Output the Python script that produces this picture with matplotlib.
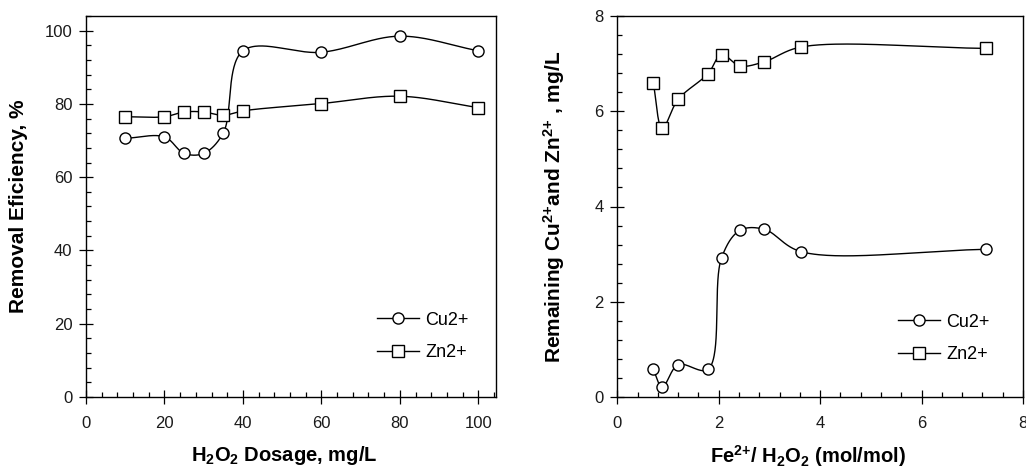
import numpy as np
import matplotlib
matplotlib.use("Agg")
import matplotlib.pyplot as plt
from matplotlib.ticker import MultipleLocator
from matplotlib.lines import Line2D

# ---- data ----
dosage = [10, 20, 25, 30, 35, 40, 60, 80, 100]
cu_removal = [70.6, 71.0, 66.5, 66.5, 72.1, 94.5, 94.1, 98.5, 94.5]
zn_removal = [76.5, 76.5, 77.8, 77.8, 76.9, 78.1, 80.1, 82.1, 79.0]

ratio = [0.709, 0.886, 1.20, 1.79, 2.055, 2.42, 2.90, 3.63, 7.27]
cu_remaining = [0.58, 0.21, 0.68, 0.58, 2.92, 3.50, 3.52, 3.05, 3.10]
zn_remaining = [6.60, 5.64, 6.25, 6.79, 7.19, 6.95, 7.04, 7.35, 7.32]

series_labels = ["Cu2+", "Zn2+"]
markers = ["o", "s"]

FIG_W, FIG_H = 1026, 468


def smooth_curve(x, y, xlim, ylim, wpx, hpx, n=60, alpha=0.5):
    """Centripetal Catmull-Rom curve through the data points, built in
    screen space so the smoothing looks like the original plotting program."""
    x = np.asarray(x, float)
    y = np.asarray(y, float)
    P = np.column_stack([(x - xlim[0]) / (xlim[1] - xlim[0]) * wpx,
                         (y - ylim[0]) / (ylim[1] - ylim[0]) * hpx])
    P = np.vstack([2 * P[0] - P[1], P, 2 * P[-1] - P[-2]])
    out = []
    for i in range(1, len(P) - 2):
        p0, p1, p2, p3 = P[i - 1], P[i], P[i + 1], P[i + 2]
        t0 = 0.0
        t1 = t0 + np.linalg.norm(p1 - p0) ** alpha
        t2 = t1 + np.linalg.norm(p2 - p1) ** alpha
        t3 = t2 + np.linalg.norm(p3 - p2) ** alpha
        t = np.linspace(t1, t2, n)[:, None]
        a1 = (t1 - t) / (t1 - t0) * p0 + (t - t0) / (t1 - t0) * p1
        a2 = (t2 - t) / (t2 - t1) * p1 + (t - t1) / (t2 - t1) * p2
        a3 = (t3 - t) / (t3 - t2) * p2 + (t - t2) / (t3 - t2) * p3
        b1 = (t2 - t) / (t2 - t0) * a1 + (t - t0) / (t2 - t0) * a2
        b2 = (t3 - t) / (t3 - t1) * a2 + (t - t1) / (t3 - t1) * a3
        c = (t2 - t) / (t2 - t1) * b1 + (t - t1) / (t2 - t1) * b2
        out.append(c)
    C = np.vstack(out)
    cx = C[:, 0] / wpx * (xlim[1] - xlim[0]) + xlim[0]
    cy = C[:, 1] / hpx * (ylim[1] - ylim[0]) + ylim[0]
    return cx, cy


plt.rcParams['font.family'] = ['Liberation Sans', 'DejaVu Sans']
plt.rcParams['mathtext.fontset'] = 'custom'
plt.rcParams['mathtext.rm'] = 'Liberation Sans'
plt.rcParams['mathtext.bf'] = 'Liberation Sans:bold'
plt.rcParams['mathtext.it'] = 'Liberation Sans:italic'

fig = plt.figure(figsize=(FIG_W / 100, FIG_H / 100), dpi=100)
ax1_rect = [86, 71, 410, 381]
ax2_rect = [617.3, 71, 405.7, 381]
ax1 = fig.add_axes([ax1_rect[0] / FIG_W, ax1_rect[1] / FIG_H,
                    ax1_rect[2] / FIG_W, ax1_rect[3] / FIG_H])
ax2 = fig.add_axes([ax2_rect[0] / FIG_W, ax2_rect[1] / FIG_H,
                    ax2_rect[2] / FIG_W, ax2_rect[3] / FIG_H])


def draw(ax, rect, x, ys, xlim, ylim, leg_anchor):
    ax.set_xlim(*xlim)
    ax.set_ylim(*ylim)
    for yv, mk in zip(ys, markers):
        sx, sy = smooth_curve(x, yv, xlim, ylim, rect[2], rect[3])
        ax.plot(sx, sy, color="black", lw=1.0, zorder=2)
        ax.plot(x, yv, linestyle="none", marker=mk, markersize=8,
                markerfacecolor="white", markeredgecolor="black",
                markeredgewidth=1.0, zorder=3)
    handles = [Line2D([], [], color="black", lw=1.0, marker=mk, markersize=8,
                      markerfacecolor="white", markeredgecolor="black",
                      markeredgewidth=1.0) for mk in markers]
    ax.legend(handles, series_labels, loc="center left", frameon=False,
              fontsize=13, handlelength=2.3, handletextpad=0.35,
              labelspacing=0.85, bbox_to_anchor=leg_anchor,
              borderaxespad=0, borderpad=0)


def style(ax):
    for s in ax.spines.values():
        s.set_linewidth(1.0)
    ax.tick_params(which="major", direction="inout", length=9.5, width=0.9,
                   labelsize=12, labelcolor="#1a1a1a")
    ax.tick_params(axis="x", which="major", pad=9)
    ax.tick_params(axis="y", which="major", pad=5)
    ax.tick_params(which="minor", direction="in", length=3.6, width=0.9)
    ax.tick_params(top=False, right=False, which="both")


draw(ax1, ax1_rect, dosage, [cu_removal, zn_removal], (0, 104.5), (0, 104),
     (0.71, 0.159))
ax1.xaxis.set_major_locator(MultipleLocator(20))
ax1.xaxis.set_minor_locator(MultipleLocator(4))
ax1.yaxis.set_major_locator(MultipleLocator(20))
ax1.yaxis.set_minor_locator(MultipleLocator(4))
ax1.set_xlabel("H$_\\mathbf{2}$O$_\\mathbf{2}$ Dosage, mg/L", fontsize=14.5,
               fontweight="bold")
ax1.xaxis.set_label_coords(0.484, -0.124)
ax1.set_ylabel("Removal Eficiency, %", fontsize=15, fontweight="bold")
ax1.yaxis.set_label_coords(-0.141, 0.5)
style(ax1)

draw(ax2, ax2_rect, ratio, [cu_remaining, zn_remaining], (0, 8), (0, 8),
     (0.692, 0.154))
ax2.xaxis.set_major_locator(MultipleLocator(2))
ax2.xaxis.set_minor_locator(MultipleLocator(0.4))
ax2.yaxis.set_major_locator(MultipleLocator(2))
ax2.yaxis.set_minor_locator(MultipleLocator(0.4))
ax2.set_xlabel("Fe$^\\mathbf{2{+}}$/ H$_\\mathbf{2}$O$_\\mathbf{2}$ (mol/mol)",
               fontsize=14.5, fontweight="bold")
ax2.xaxis.set_label_coords(0.469, -0.120)
ax2.set_ylabel("Remaining Cu$^\\mathbf{2{+}}$and Zn$^\\mathbf{2{+}}$ , mg/L",
               fontsize=15, fontweight="bold")
ax2.yaxis.set_label_coords(-0.124, 0.5)
style(ax2)

fig.savefig("out.png", dpi=100)
